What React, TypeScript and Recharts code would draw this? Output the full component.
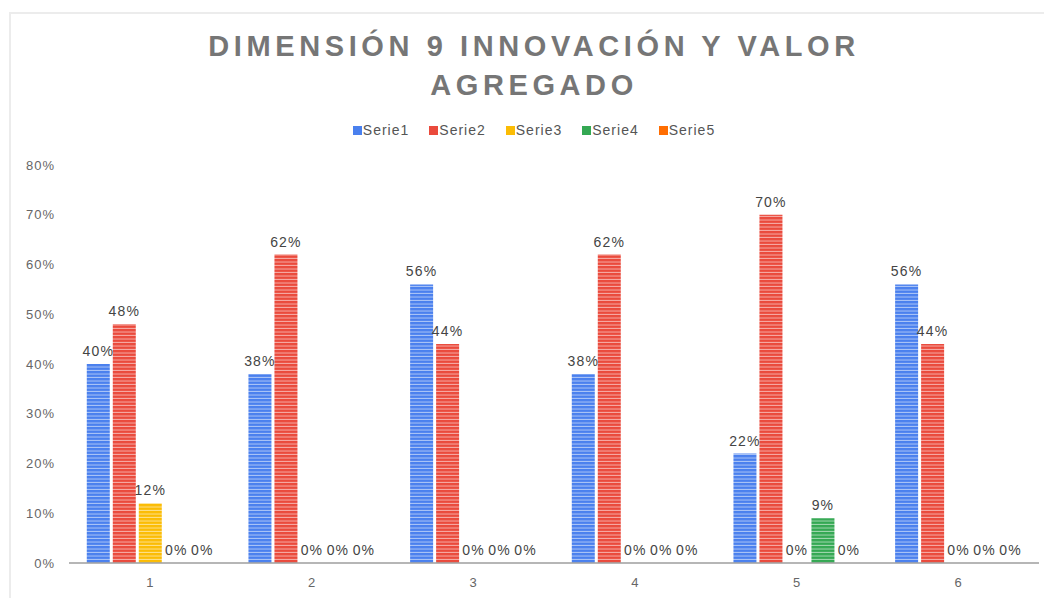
import React from 'react';
import { BarChart, Bar, XAxis, YAxis, LabelList } from 'recharts';

const categories = ['1', '2', '3', '4', '5', '6'];
const serie1 = [40, 38, 56, 38, 22, 56];
const serie2 = [48, 62, 44, 62, 70, 44];
const serie3 = [12, 0, 0, 0, 0, 0];
const serie4 = [0, 0, 0, 0, 9, 0];
const serie5 = [0, 0, 0, 0, 0, 0];
const yTicks = [0, 10, 20, 30, 40, 50, 60, 70, 80];

const seriesNames = ['Serie1', 'Serie2', 'Serie3', 'Serie4', 'Serie5'];
const seriesColors = ['#4a80ee', '#ea4a3c', '#fbbc04', '#34a853', '#ff6d01'];

const data = categories.map((name, i) => ({
    name,
    s1: serie1[i],
    s2: serie2[i],
    s3: serie3[i],
    s4: serie4[i],
    s5: serie5[i],
}));

const keys = ['s1', 's2', 's3', 's4', 's5'];
const font = '"Liberation Sans", Arial, sans-serif';

const Legend: React.FC = () => (
    <div
        style={{
            position: 'absolute',
            top: 122,
            left: 12,
            width: 1064,
            display: 'flex',
            justifyContent: 'center',
            fontFamily: font,
            fontSize: 14,
            letterSpacing: 1,
            color: '#555',
        }}
    >
        {seriesNames.map((n, i) => (
            <div key={n} style={{ display: 'flex', alignItems: 'center', marginRight: 20 }}>
                <span style={{ width: 9, height: 9, background: seriesColors[i], marginRight: 1, display: 'inline-block' }} />
                <span>{n}</span>
            </div>
        ))}
    </div>
);

const App: React.FC = () => {
    return (
        <div style={{ position: 'absolute', left: 0, top: 0, width: 1044, height: 598, background: '#fff', overflow: 'hidden' }}>
            <svg width={0} height={0} style={{ position: 'absolute' }}>
                <defs>
                    {seriesColors.map((c, i) => (
                        <pattern key={i} id={`stripe-${i}`} patternUnits="userSpaceOnUse" width={4} height={3.5}>
                            <rect x={0} y={0} width={4} height={3.5} fill={c} />
                            <rect x={0} y={2.5} width={4} height={1} fill="#fff" fillOpacity={0.55} />
                        </pattern>
                    ))}
                </defs>
            </svg>
            <div
                style={{
                    position: 'absolute',
                    left: 9,
                    top: 12,
                    width: 1040,
                    height: 590,
                    borderTop: '2px solid #ececec',
                    borderLeft: '2px solid #ececec',
                }}
            />
            <div
                style={{
                    position: 'absolute',
                    top: 27,
                    left: 2,
                    width: 1064,
                    textAlign: 'center',
                    fontFamily: font,
                    fontWeight: 700,
                    fontSize: 29,
                    letterSpacing: 4.6,
                    lineHeight: '39px',
                    color: '#767676',
                }}
            >
                DIMENSIÓN 9 INNOVACIÓN Y VALOR
                <br />
                AGREGADO
            </div>
            <Legend />
            <div style={{ position: 'absolute', left: 0, top: 0 }}>
                <BarChart
                    width={1044}
                    height={598}
                    data={data}
                    margin={{ top: 165, right: 5, left: 9, bottom: 5 }}
                    barCategoryGap="11%"
                    barGap={3}
                >
                    <XAxis
                        dataKey="name"
                        tickLine={false}
                        axisLine={{ stroke: '#9e9e9e', strokeWidth: 1.5 }}
                        tick={{ fill: '#666', fontSize: 13, fontFamily: font }}
                        tickMargin={9}
                        height={30}
                    />
                    <YAxis
                        domain={[0, 80]}
                        ticks={yTicks}
                        tickFormatter={(v: number) => `${v}%`}
                        axisLine={false}
                        tickLine={false}
                        tickMargin={8}
                        width={60}
                        tick={{ fill: '#666', fontSize: 13, fontFamily: font, letterSpacing: 1 }}
                    />
                    {keys.map((k, i) => (
                        <Bar
                            key={k}
                            dataKey={k}
                            name={seriesNames[i]}
                            fill={`url(#stripe-${i})`}
                            minPointSize={0.01}
                            isAnimationActive={false}
                        >
                            <LabelList
                                dataKey={k}
                                position="top"
                                offset={8}
                                formatter={(v: number) => `${v}%`}
                                style={{ fill: '#444', fontSize: 14, fontFamily: font, letterSpacing: 1.2 }}
                            />
                        </Bar>
                    ))}
                </BarChart>
            </div>
        </div>
    );
};

export default App;
